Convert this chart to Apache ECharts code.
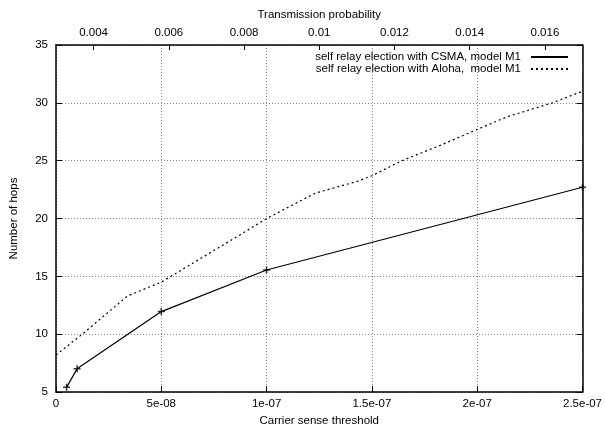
<!DOCTYPE html>
<html>
<head>
<meta charset="utf-8">
<script src="https://cdn.jsdelivr.net/npm/echarts@6/dist/echarts.min.js"></script>
<style>html,body{margin:0;padding:0;background:#fff}#chart{width:605px;height:432px}</style>
</head>
<body>
<div id="chart"></div>
<script>
// ---- data ----
const csmaName = 'self relay election with CSMA, model M1';
const alohaName = 'self relay election with Aloha,  model M1';
const csmaX = [5e-9, 1e-8, 5e-8, 1e-7, 2.5e-7];          // carrier sense threshold
const csmaY = [5.4, 7.0, 11.95, 15.55, 22.7];
const alohaX = [0.003, 0.0037, 0.0049, 0.0058, 0.0079, 0.0086, 0.0099, 0.011, 0.0114, 0.0122, 0.0132, 0.0142, 0.015, 0.0162, 0.017]; // transmission probability
const alohaY = [8.2, 10.0, 13.3, 14.5, 18.6, 20.0, 22.2, 23.2, 23.7, 25.0, 26.3, 27.7, 28.8, 30.0, 31.0];
const xTickValues = [0, 5e-8, 1e-7, 1.5e-7, 2e-7, 2.5e-7];
const xTickLabels = ['0', '5e-08', '1e-07', '1.5e-07', '2e-07', '2.5e-07'];
const x2TickValues = [0.004, 0.006, 0.008, 0.010, 0.012, 0.014, 0.016];
const x2TickLabels = ['0.004', '0.006', '0.008', '0.01', '0.012', '0.014', '0.016'];
const yTickValues = [5, 10, 15, 20, 25, 30, 35];

function nearestLabel(values, labels, v) {
  let best = 0, bd = Infinity;
  values.forEach((t, i) => { const d = Math.abs(t - v); if (d < bd) { bd = d; best = i; } });
  return labels[best];
}

const FONT = 'Liberation Sans';
const FS = 11.5;
const txt = { fontFamily: FONT, fontSize: FS, color: '#000' };
const gridLine = { show: true, lineStyle: { color: '#888', width: 1, type: [1, 2] } };

function legendFor(name, top) {
  return { data: [name], orient: 'horizontal', right: 36, top: top, padding: 0, align: 'right',
    itemWidth: 37, itemHeight: 12, itemStyle: { opacity: 0 },
    textStyle: Object.assign({ padding: [0, 5, 0, 0] }, txt), selectedMode: false };
}

const chart = echarts.init(document.getElementById('chart'), null, { renderer: 'canvas' });
chart.setOption({
  animation: false,
  backgroundColor: '#fff',
  grid: { left: 55, right: 21, top: 45, bottom: 36, containLabel: false },
  legend: [legendFor(csmaName, 51), legendFor(alohaName, 63)],
  xAxis: [
    { type: 'value', position: 'bottom', min: 0, max: 2.5e-7, interval: 5e-8,
      name: 'Carrier sense threshold', nameLocation: 'middle', nameGap: 23, nameTextStyle: txt,
      axisLine: { show: true, onZero: false, lineStyle: { color: '#000', width: 1.5 } },
      axisTick: { show: true, inside: true, length: 6, lineStyle: { color: '#000', width: 1 } },
      axisLabel: Object.assign({ margin: 6, showMinLabel: true, showMaxLabel: true,
        formatter: v => nearestLabel(xTickValues, xTickLabels, v) }, txt),
      splitLine: gridLine },
    { type: 'value', position: 'top', min: 0.003, max: 0.017,
      name: 'Transmission probability', nameLocation: 'middle', nameGap: 24, nameTextStyle: txt,
      axisLine: { show: true, onZero: false, lineStyle: { color: '#000', width: 1.5 } },
      axisTick: { show: true, inside: true, length: 5, customValues: x2TickValues, lineStyle: { color: '#000', width: 1 } },
      axisLabel: Object.assign({ margin: 6, customValues: x2TickValues,
        formatter: v => nearestLabel(x2TickValues, x2TickLabels, v) }, txt),
      splitLine: { show: false } }
  ],
  yAxis: [
    { type: 'value', position: 'left', min: 5, max: 35, interval: 5,
      name: 'Number of hops', nameLocation: 'middle', nameGap: 36, nameRotate: 90, nameTextStyle: txt,
      axisLine: { show: true, onZero: false, lineStyle: { color: '#000', width: 1.5 } },
      axisTick: { show: true, inside: true, length: 6, lineStyle: { color: '#000', width: 1 } },
      axisLabel: Object.assign({ margin: 8, formatter: v => String(nearestLabel(yTickValues, yTickValues, v)) }, txt),
      splitLine: gridLine },
    { type: 'value', position: 'right', min: 5, max: 35, interval: 5,
      axisLine: { show: true, onZero: false, lineStyle: { color: '#000', width: 1.5 } },
      axisTick: { show: true, inside: true, length: 6, lineStyle: { color: '#000', width: 1 } },
      axisLabel: { show: false },
      splitLine: { show: false } }
  ],
  series: [
    { name: csmaName, type: 'line', xAxisIndex: 0, yAxisIndex: 0, symbol: 'none',
      data: csmaX.map((x, i) => [x, csmaY[i]]),
      lineStyle: { color: '#000', width: 1.2, type: 'solid' }, itemStyle: { color: '#000' } },
    { name: 'csma-points', type: 'scatter', xAxisIndex: 0, yAxisIndex: 0,
      symbol: 'path://M0,-5L0,5M-5,0L5,0', symbolSize: 7,
      data: csmaX.map((x, i) => [x, csmaY[i]]),
      itemStyle: { color: 'transparent', borderColor: '#000', borderWidth: 1.5 } },
    { name: alohaName, type: 'line', xAxisIndex: 1, yAxisIndex: 0, symbol: 'none',
      data: alohaX.map((x, i) => [x, alohaY[i]]),
      lineStyle: { color: '#000', width: 1.2, type: [2, 3] }, itemStyle: { color: '#000' } }
  ]
});
</script>
</body>
</html>
